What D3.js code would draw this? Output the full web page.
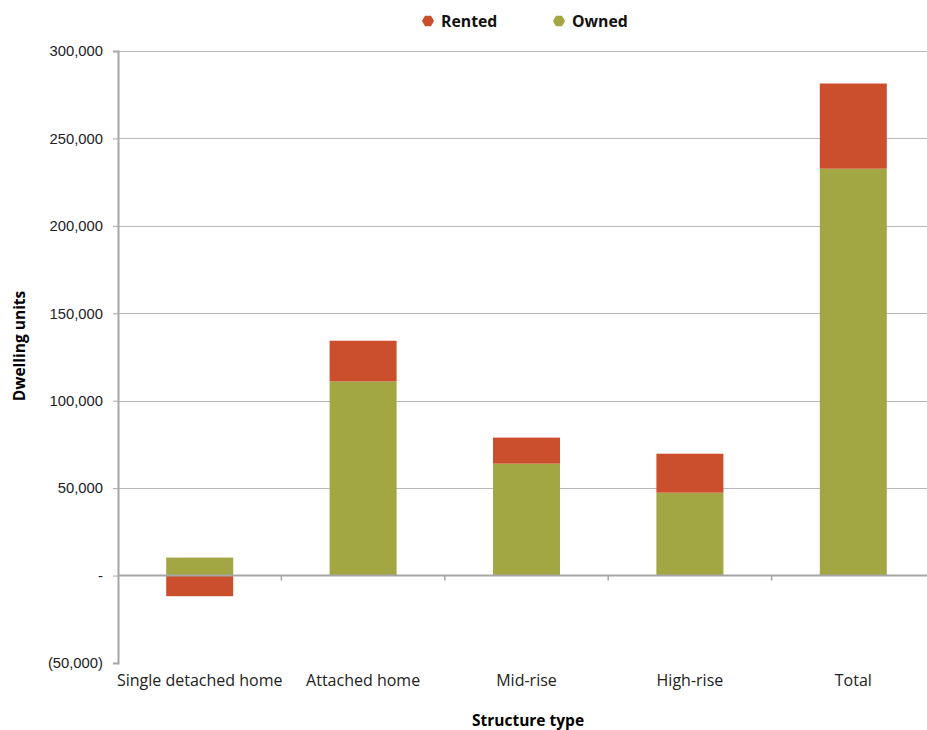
<!DOCTYPE html>
<html>
<head>
<meta charset="utf-8">
<script src="https://cdn.jsdelivr.net/npm/d3@7"></script>
<style>
  body { margin: 0; background: #fff; }
  svg { display: block; font-family: "Open Sans", "Noto Sans", sans-serif; }
</style>
</head>
<body>
<svg id="chart" width="927" height="730"></svg>
<script>
// Change in dwelling units by structure type and tenure
const categories = ["Single detached home", "Attached home", "Mid-rise", "High-rise", "Total"];
const owned  = [10300, 111000, 64000, 47400, 232700];
const rented = [-11800, 23300, 14900, 22300, 48700];
const yTicks = [-50000, 0, 50000, 100000, 150000, 200000, 250000, 300000];
const seriesNames = ["Owned", "Rented"];
const colors = { Owned: "#a2a643", Rented: "#cb4f2c" };

const svg = d3.select("#chart");
const margin = { left: 118, right: -8, top: 51, bottom: 67 };
const W = 927, H = 730;

const x = d3.scaleBand()
  .domain(categories)
  .range([margin.left, W - margin.right])
  .paddingInner(0.59)
  .paddingOuter(0.295);

const y = d3.scaleLinear()
  .domain([-50000, 300000])
  .range([H - margin.bottom, margin.top]);

const rows = categories.map((c, i) => ({ category: c, Owned: owned[i], Rented: rented[i] }));
const stacked = d3.stack().keys(seriesNames).offset(d3.stackOffsetDiverging)(rows);

// horizontal gridlines
svg.append("g")
  .selectAll("line")
  .data(yTicks.filter(t => t !== 0 && t !== -50000))
  .join("line")
  .attr("x1", margin.left)
  .attr("x2", W)
  .attr("y1", d => Math.round(y(d)) + 0.5)
  .attr("y2", d => Math.round(y(d)) + 0.5)
  .attr("stroke", "#b9b9b9")
  .attr("stroke-width", 1);

// bars
svg.append("g")
  .selectAll("g")
  .data(stacked)
  .join("g")
  .attr("fill", d => colors[d.key])
  .selectAll("rect")
  .data(d => d)
  .join("rect")
  .attr("x", d => x(d.data.category))
  .attr("width", x.bandwidth())
  .attr("y", d => y(Math.max(d[0], d[1])))
  .attr("height", d => Math.abs(y(d[0]) - y(d[1])));

// y axis
const fmt = v => v === 0 ? "-" : (v < 0 ? "(" + d3.format(",")(-v) + ")" : d3.format(",")(v));
const yAxis = svg.append("g")
  .attr("transform", `translate(${margin.left},0)`)
  .call(d3.axisLeft(y).tickValues(yTicks).tickFormat(fmt).tickSize(5).tickPadding(10));
yAxis.select(".domain").attr("stroke", "#a6a6a6").attr("stroke-width", 2);
yAxis.selectAll(".tick line").attr("stroke", "#a6a6a6");
yAxis.selectAll(".tick text")
  .attr("fill", "#222")
  .style("font-size", "14.8px");

// x axis along zero line
const boundaries = categories.map(c => x(c) - x.step() * x.paddingInner() / 2).slice(1);
const xg = svg.append("g");
xg.append("line")
  .attr("x1", margin.left).attr("x2", W)
  .attr("y1", y(0)).attr("y2", y(0))
  .attr("stroke", "#a6a6a6").attr("stroke-width", 2);
xg.selectAll(".bt")
  .data(boundaries)
  .join("line")
  .attr("class", "bt")
  .attr("x1", d => d).attr("x2", d => d)
  .attr("y1", y(0)).attr("y2", y(0) + 5)
  .attr("stroke", "#a6a6a6").attr("stroke-width", 1.5);

// category labels
svg.append("g")
  .selectAll("text")
  .data(categories)
  .join("text")
  .attr("x", d => x(d) + x.bandwidth() / 2)
  .attr("y", 686)
  .attr("text-anchor", "middle")
  .attr("fill", "#222")
  .style("font-size", "16px")
  .text(d => d);

// axis titles
svg.append("text")
  .attr("x", 528).attr("y", 726)
  .attr("text-anchor", "middle")
  .style("font-size", "15.5px").style("font-weight", "bold")
  .text("Structure type");
svg.append("text")
  .attr("transform", "translate(25,346) rotate(-90)")
  .attr("text-anchor", "middle")
  .style("font-size", "15.5px").style("font-weight", "bold")
  .text("Dwelling units");

// legend
const hex = (cx, cy, r) => d3.range(6).map(i => {
  const a = Math.PI / 3 * i;
  return [cx + r * Math.cos(a), cy + r * Math.sin(a)];
});
const legendItems = [
  { name: "Rented", x: 428 },
  { name: "Owned", x: 559 }
];
const lg = svg.append("g");
lg.selectAll("polygon")
  .data(legendItems)
  .join("polygon")
  .attr("points", d => hex(d.x, 21, 6).map(p => p.join(",")).join(" "))
  .attr("fill", d => colors[d.name]);
lg.selectAll("text")
  .data(legendItems)
  .join("text")
  .attr("x", d => d.x + 13)
  .attr("y", 27)
  .style("font-size", "15.8px").style("font-weight", "bold")
  .attr("fill", "#111")
  .text(d => d.name);
</script>
</body>
</html>
